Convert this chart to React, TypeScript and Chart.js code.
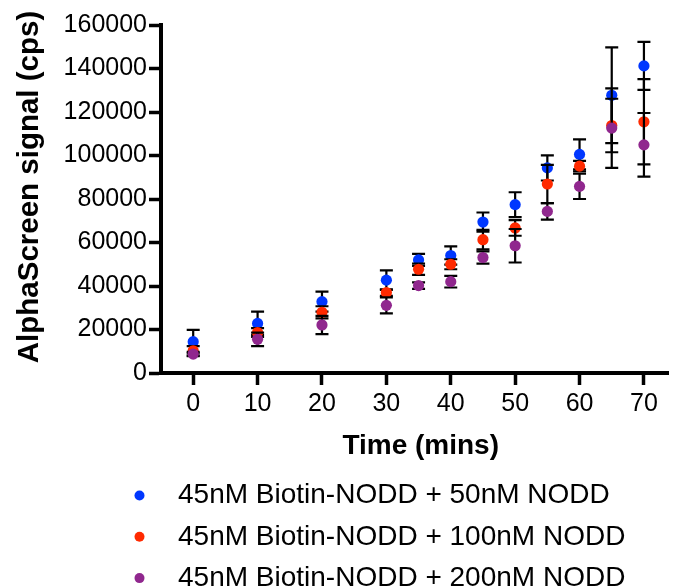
import React, { useEffect, useRef } from 'react';
import { Chart, registerables } from 'chart.js';

Chart.register(...registerables);

// ---- data ----
const times = [0, 10, 20, 30, 35, 40, 45, 50, 55, 60, 65, 70];
const seriesLabels = [
  '45nM Biotin-NODD + 50nM NODD',
  '45nM Biotin-NODD + 100nM NODD',
  '45nM Biotin-NODD + 200nM NODD',
];
const mean50 = [14400, 22800, 32800, 42700, 52000, 54000, 69400, 77400, 94300, 100500, 127700, 141200];
const sd50 = [5400, 5400, 4600, 4500, 2800, 4200, 4400, 5700, 5800, 6900, 22000, 11000];
const mean100 = [10200, 18600, 27900, 37000, 47700, 50000, 61300, 66700, 86900, 95100, 113800, 115500];
const sd100 = [2200, 2000, 2800, 1500, 2600, 2300, 4500, 3600, 8800, 2400, 12300, 19600];
const mean200 = [8700, 15500, 22100, 31100, 40200, 42000, 53100, 58500, 74300, 85800, 112600, 104900];
const sd200 = [1000, 3100, 4200, 3700, 1500, 2700, 2800, 7700, 3800, 5800, 18300, 14650];
const xTicks = [0, 10, 20, 30, 40, 50, 60, 70];
const yTicks = [0, 20000, 40000, 60000, 80000, 100000, 120000, 140000, 160000];
const xTitle = 'Time (mins)';
const yTitle = 'AlphaScreen signal (cps)';

// ---- styles ----
const colors = ['#0037ff', '#ff2a00', '#90278e'];
const FONT = '"Liberation Sans", Arial, Helvetica, sans-serif';

const errorBarPlugin = {
  id: 'errorBars',
  beforeDatasetDraw(chart: any, args: any) {
    const ds: any = chart.data.datasets[args.index];
    const errs: number[] = ds.errorValues;
    if (!errs) return;
    const xs = chart.scales.x;
    const ys = chart.scales.y;
    const ctx = chart.ctx;
    ctx.save();
    ctx.strokeStyle = '#000';
    ctx.lineWidth = 2.2;
    ds.data.forEach((p: any, i: number) => {
      const e = errs[i];
      const x = xs.getPixelForValue(p.x);
      const y1 = ys.getPixelForValue(p.y + e);
      const y2 = ys.getPixelForValue(p.y - e);
      ctx.beginPath();
      ctx.moveTo(x, y1);
      ctx.lineTo(x, y2);
      ctx.moveTo(x - 6.5, y1);
      ctx.lineTo(x + 6.5, y1);
      ctx.moveTo(x - 6.5, y2);
      ctx.lineTo(x + 6.5, y2);
      ctx.stroke();
    });
    ctx.restore();
  },
};

const titlesPlugin = {
  id: 'axisTitles',
  afterDraw(chart: any) {
    const ctx = chart.ctx;
    const ca = chart.chartArea;
    ctx.save();
    ctx.fillStyle = '#000';
    ctx.textAlign = 'center';
    ctx.textBaseline = 'middle';
    ctx.font = `bold 28px ${FONT}`;
    ctx.fillText(xTitle, (ca.left + ca.right) / 2 + 6, ca.bottom + 73);
    ctx.translate(30, (ca.top + ca.bottom) / 2 - 12);
    ctx.rotate(-Math.PI / 2);
    ctx.font = `bold 29.5px ${FONT}`;
    ctx.fillText(yTitle, 0, 0);
    ctx.restore();
  },
};

const legendPlugin = {
  id: 'stackLegend',
  afterDraw(chart: any) {
    const ctx = chart.ctx;
    const base = chart.chartArea.bottom + 122.5;
    ctx.save();
    ctx.font = `28px ${FONT}`;
    ctx.textBaseline = 'middle';
    ctx.textAlign = 'left';
    chart.data.datasets.forEach((ds: any, i: number) => {
      const y = base + i * 41.3;
      ctx.fillStyle = ds.backgroundColor;
      ctx.beginPath();
      ctx.arc(139.5, y, 5, 0, Math.PI * 2);
      ctx.fill();
      ctx.fillStyle = '#000';
      ctx.fillText(ds.label, 178, y);
    });
    ctx.restore();
  },
};

export default function App() {
  const ref = useRef<HTMLCanvasElement | null>(null);

  useEffect(() => {
    if (!ref.current) return;
    const means = [mean50, mean100, mean200];
    const sds = [sd50, sd100, sd200];
    const orders = [3, 2, 1];
    const chart = new Chart(ref.current, {
      type: 'scatter',
      data: {
        datasets: seriesLabels.map((label, k) => ({
          label,
          data: times.map((t, i) => ({ x: t, y: means[k][i] })),
          errorValues: sds[k],
          backgroundColor: colors[k],
          borderColor: colors[k],
          borderWidth: 0,
          pointRadius: 5.6,
          pointHoverRadius: 5.6,
          order: orders[k],
        })) as any,
      },
      options: {
        responsive: false,
        animation: false,
        events: [],
        layout: { padding: { left: 0, top: 25, right: 0, bottom: 115 } },
        plugins: {
          legend: { display: false },
          tooltip: { enabled: false },
        },
        scales: {
          x: {
            type: 'linear',
            min: -5,
            max: 73.8,
            afterBuildTicks: (axis: any) => {
              axis.ticks = xTicks.map((v) => ({ value: v }));
            },
            afterFit: (axis: any) => {
              axis.height = 100;
              axis.paddingLeft = 0;
              axis.paddingRight = 0;
            },
            grid: {
              display: true,
              drawOnChartArea: false,
              drawTicks: true,
              tickLength: 12,
              tickWidth: 3.5,
              tickColor: '#000',
            },
            border: { display: true, color: '#000', width: 4 },
            ticks: {
              color: '#000',
              font: { size: 25, family: FONT },
              padding: 4,
              maxRotation: 0,
              autoSkip: false,
              callback: (v: any) => String(v),
            },
            title: { display: false },
          },
          y: {
            type: 'linear',
            min: 0,
            max: 160000,
            afterBuildTicks: (axis: any) => {
              axis.ticks = yTicks.map((v) => ({ value: v }));
            },
            afterFit: (axis: any) => {
              axis.width = 161;
              axis.paddingTop = 0;
              axis.paddingBottom = 0;
            },
            grid: {
              display: true,
              drawOnChartArea: false,
              drawTicks: true,
              tickLength: 12,
              tickWidth: 3.5,
              tickColor: '#000',
            },
            border: { display: true, color: '#000', width: 4 },
            ticks: {
              color: '#000',
              font: { size: 25, family: FONT },
              padding: 2,
              autoSkip: false,
              callback: (v: any) => String(v),
            },
            title: { display: false },
          },
        },
      } as any,
      plugins: [errorBarPlugin, titlesPlugin, legendPlugin],
    });
    return () => chart.destroy();
  }, []);

  return (
    <div style={{ position: 'fixed', left: 0, top: 0, width: 674, height: 588, background: '#fff' }}>
      <canvas ref={ref} width={674} height={588} style={{ display: 'block' }} />
    </div>
  );
}
